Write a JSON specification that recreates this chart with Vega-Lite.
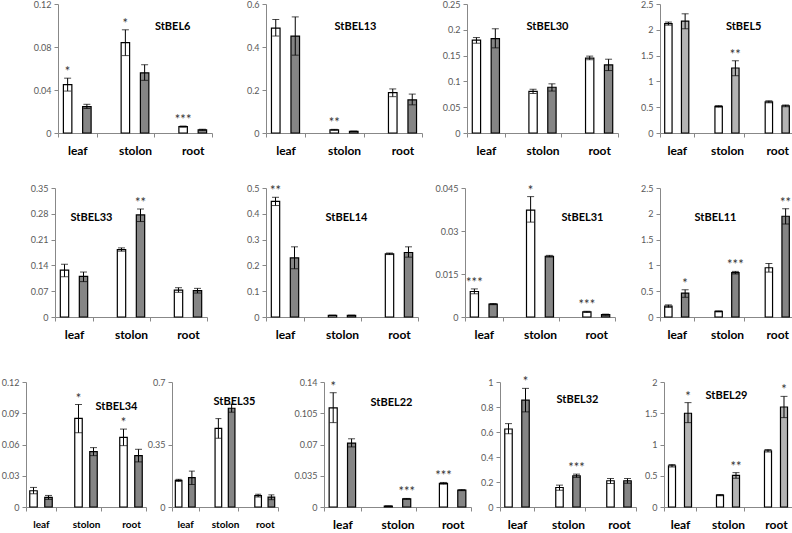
{
"$schema":"https://vega.github.io/schema/vega-lite/v6.json",
"padding":{"left":0,"top":0,"right":0,"bottom":0},
"background":"white",
"datasets":{"d":[
{"gene":"StBEL6","tissue":"leaf","geno":"A","v":0.045,"lo":0.039,"hi":0.051,"sig":"*"},
{"gene":"StBEL6","tissue":"leaf","geno":"B","v":0.0245,"lo":0.0228,"hi":0.0267,"sig":""},
{"gene":"StBEL6","tissue":"stolon","geno":"A","v":0.084,"lo":0.072,"hi":0.096,"sig":"*"},
{"gene":"StBEL6","tissue":"stolon","geno":"B","v":0.056,"lo":0.049,"hi":0.0635,"sig":""},
{"gene":"StBEL6","tissue":"root","geno":"A","v":0.006,"lo":0.0055,"hi":0.0065,"sig":"***"},
{"gene":"StBEL6","tissue":"root","geno":"B","v":0.003,"lo":0.0025,"hi":0.0035,"sig":""},
{"gene":"StBEL13","tissue":"leaf","geno":"A","v":0.488,"lo":0.451,"hi":0.528,"sig":""},
{"gene":"StBEL13","tissue":"leaf","geno":"B","v":0.451,"lo":0.362,"hi":0.54,"sig":""},
{"gene":"StBEL13","tissue":"stolon","geno":"A","v":0.015,"lo":0.013,"hi":0.017,"sig":"**"},
{"gene":"StBEL13","tissue":"stolon","geno":"B","v":0.008,"lo":0.007,"hi":0.009,"sig":""},
{"gene":"StBEL13","tissue":"root","geno":"A","v":0.188,"lo":0.169,"hi":0.205,"sig":""},
{"gene":"StBEL13","tissue":"root","geno":"B","v":0.154,"lo":0.131,"hi":0.181,"sig":""},
{"gene":"StBEL30","tissue":"leaf","geno":"A","v":0.18,"lo":0.174,"hi":0.185,"sig":""},
{"gene":"StBEL30","tissue":"leaf","geno":"B","v":0.183,"lo":0.165,"hi":0.202,"sig":""},
{"gene":"StBEL30","tissue":"stolon","geno":"A","v":0.0807,"lo":0.0767,"hi":0.0847,"sig":""},
{"gene":"StBEL30","tissue":"stolon","geno":"B","v":0.0887,"lo":0.0813,"hi":0.0953,"sig":""},
{"gene":"StBEL30","tissue":"root","geno":"A","v":0.145,"lo":0.142,"hi":0.149,"sig":""},
{"gene":"StBEL30","tissue":"root","geno":"B","v":0.132,"lo":0.121,"hi":0.143,"sig":""},
{"gene":"StBEL5","tissue":"leaf","geno":"A","v":2.118,"lo":2.09,"hi":2.15,"sig":""},
{"gene":"StBEL5","tissue":"leaf","geno":"B","v":2.17,"lo":2.02,"hi":2.31,"sig":""},
{"gene":"StBEL5","tissue":"stolon","geno":"A","v":0.515,"lo":0.5,"hi":0.53,"sig":""},
{"gene":"StBEL5","tissue":"stolon","geno":"B","v":1.26,"lo":1.11,"hi":1.4,"sig":"**"},
{"gene":"StBEL5","tissue":"root","geno":"A","v":0.604,"lo":0.585,"hi":0.625,"sig":""},
{"gene":"StBEL5","tissue":"root","geno":"B","v":0.528,"lo":0.51,"hi":0.545,"sig":""},
{"gene":"StBEL33","tissue":"leaf","geno":"A","v":0.127,"lo":0.109,"hi":0.143,"sig":""},
{"gene":"StBEL33","tissue":"leaf","geno":"B","v":0.11,"lo":0.096,"hi":0.122,"sig":""},
{"gene":"StBEL33","tissue":"stolon","geno":"A","v":0.183,"lo":0.1786,"hi":0.1875,"sig":""},
{"gene":"StBEL33","tissue":"stolon","geno":"B","v":0.277,"lo":0.259,"hi":0.293,"sig":"**"},
{"gene":"StBEL33","tissue":"root","geno":"A","v":0.073,"lo":0.067,"hi":0.0795,"sig":""},
{"gene":"StBEL33","tissue":"root","geno":"B","v":0.0714,"lo":0.065,"hi":0.0777,"sig":""},
{"gene":"StBEL14","tissue":"leaf","geno":"A","v":0.448,"lo":0.432,"hi":0.464,"sig":"**"},
{"gene":"StBEL14","tissue":"leaf","geno":"B","v":0.229,"lo":0.187,"hi":0.272,"sig":""},
{"gene":"StBEL14","tissue":"stolon","geno":"A","v":0.006,"lo":0.005,"hi":0.007,"sig":""},
{"gene":"StBEL14","tissue":"stolon","geno":"B","v":0.006,"lo":0.005,"hi":0.007,"sig":""},
{"gene":"StBEL14","tissue":"root","geno":"A","v":0.245,"lo":0.242,"hi":0.248,"sig":""},
{"gene":"StBEL14","tissue":"root","geno":"B","v":0.25,"lo":0.232,"hi":0.272,"sig":""},
{"gene":"StBEL31","tissue":"leaf","geno":"A","v":0.0089,"lo":0.0081,"hi":0.0098,"sig":"***"},
{"gene":"StBEL31","tissue":"leaf","geno":"B","v":0.0045,"lo":0.0043,"hi":0.0047,"sig":""},
{"gene":"StBEL31","tissue":"stolon","geno":"A","v":0.0373,"lo":0.0331,"hi":0.042,"sig":"*"},
{"gene":"StBEL31","tissue":"stolon","geno":"B","v":0.0212,"lo":0.0209,"hi":0.0215,"sig":""},
{"gene":"StBEL31","tissue":"root","geno":"A","v":0.0018,"lo":0.0016,"hi":0.002,"sig":"***"},
{"gene":"StBEL31","tissue":"root","geno":"B","v":0.0008,"lo":0.0006,"hi":0.001,"sig":""},
{"gene":"StBEL11","tissue":"leaf","geno":"A","v":0.21,"lo":0.185,"hi":0.235,"sig":""},
{"gene":"StBEL11","tissue":"leaf","geno":"B","v":0.464,"lo":0.382,"hi":0.528,"sig":"*"},
{"gene":"StBEL11","tissue":"stolon","geno":"A","v":0.108,"lo":0.098,"hi":0.118,"sig":""},
{"gene":"StBEL11","tissue":"stolon","geno":"B","v":0.859,"lo":0.834,"hi":0.884,"sig":"***"},
{"gene":"StBEL11","tissue":"root","geno":"A","v":0.954,"lo":0.87,"hi":1.037,"sig":""},
{"gene":"StBEL11","tissue":"root","geno":"B","v":1.953,"lo":1.8,"hi":2.1,"sig":"**"},
{"gene":"StBEL34","tissue":"leaf","geno":"A","v":0.0156,"lo":0.0127,"hi":0.0188,"sig":""},
{"gene":"StBEL34","tissue":"leaf","geno":"B","v":0.0092,"lo":0.0073,"hi":0.0111,"sig":""},
{"gene":"StBEL34","tissue":"stolon","geno":"A","v":0.085,"lo":0.0713,"hi":0.0984,"sig":"*"},
{"gene":"StBEL34","tissue":"stolon","geno":"B","v":0.0532,"lo":0.0493,"hi":0.057,"sig":""},
{"gene":"StBEL34","tissue":"root","geno":"A","v":0.0668,"lo":0.0589,"hi":0.0748,"sig":"*"},
{"gene":"StBEL34","tissue":"root","geno":"B","v":0.0493,"lo":0.0433,"hi":0.0554,"sig":""},
{"gene":"StBEL35","tissue":"leaf","geno":"A","v":0.149,"lo":0.143,"hi":0.155,"sig":""},
{"gene":"StBEL35","tissue":"leaf","geno":"B","v":0.164,"lo":0.126,"hi":0.201,"sig":""},
{"gene":"StBEL35","tissue":"stolon","geno":"A","v":0.44,"lo":0.385,"hi":0.495,"sig":""},
{"gene":"StBEL35","tissue":"stolon","geno":"B","v":0.553,"lo":0.531,"hi":0.576,"sig":""},
{"gene":"StBEL35","tissue":"root","geno":"A","v":0.064,"lo":0.056,"hi":0.0715,"sig":""},
{"gene":"StBEL35","tissue":"root","geno":"B","v":0.055,"lo":0.041,"hi":0.068,"sig":""},
{"gene":"StBEL22","tissue":"leaf","geno":"A","v":0.111,"lo":0.0945,"hi":0.128,"sig":"*"},
{"gene":"StBEL22","tissue":"leaf","geno":"B","v":0.0716,"lo":0.0673,"hi":0.0764,"sig":""},
{"gene":"StBEL22","tissue":"stolon","geno":"A","v":0.001,"lo":0.0008,"hi":0.0012,"sig":""},
{"gene":"StBEL22","tissue":"stolon","geno":"B","v":0.0091,"lo":0.0086,"hi":0.0096,"sig":"***"},
{"gene":"StBEL22","tissue":"root","geno":"A","v":0.0265,"lo":0.0255,"hi":0.0275,"sig":"***"},
{"gene":"StBEL22","tissue":"root","geno":"B","v":0.0189,"lo":0.0183,"hi":0.0195,"sig":""},
{"gene":"StBEL32","tissue":"leaf","geno":"A","v":0.624,"lo":0.586,"hi":0.667,"sig":""},
{"gene":"StBEL32","tissue":"leaf","geno":"B","v":0.855,"lo":0.761,"hi":0.949,"sig":"*"},
{"gene":"StBEL32","tissue":"stolon","geno":"A","v":0.156,"lo":0.134,"hi":0.175,"sig":""},
{"gene":"StBEL32","tissue":"stolon","geno":"B","v":0.25,"lo":0.237,"hi":0.263,"sig":"***"},
{"gene":"StBEL32","tissue":"root","geno":"A","v":0.21,"lo":0.188,"hi":0.228,"sig":""},
{"gene":"StBEL32","tissue":"root","geno":"B","v":0.21,"lo":0.19,"hi":0.228,"sig":""},
{"gene":"StBEL29","tissue":"leaf","geno":"A","v":0.66,"lo":0.64,"hi":0.68,"sig":""},
{"gene":"StBEL29","tissue":"leaf","geno":"B","v":1.5,"lo":1.35,"hi":1.67,"sig":"*"},
{"gene":"StBEL29","tissue":"stolon","geno":"A","v":0.19,"lo":0.18,"hi":0.2,"sig":""},
{"gene":"StBEL29","tissue":"stolon","geno":"B","v":0.505,"lo":0.46,"hi":0.55,"sig":"**"},
{"gene":"StBEL29","tissue":"root","geno":"A","v":0.9,"lo":0.88,"hi":0.92,"sig":""},
{"gene":"StBEL29","tissue":"root","geno":"B","v":1.6,"lo":1.43,"hi":1.77,"sig":"*"}
]},
"vconcat":[
{"spacing":28,"resolve":{"scale":{"x":"independent","y":"independent","xOffset":"independent"}},"vconcat":[
{"spacing":0,"resolve":{"scale":{"x":"independent","y":"independent","xOffset":"independent"}},"hconcat":[
{"width":1,"height":1,"data":{"values":[]},"mark":"point"},
{"width":154,"height":129,"data":{"name":"d"},"transform":[{"filter":"datum.gene=='StBEL6'"}],"title":{"text":"StBEL6","anchor":"end","dx":-22,"dy":36},
"encoding":{"x":{"field":"tissue","type":"nominal","title":null,"sort":["leaf","stolon","root"],"scale":{"paddingInner":0.3333,"paddingOuter":0}},"xOffset":{"field":"geno","type":"nominal","scale":{"paddingInner":0.56,"paddingOuter":0.28}}},
"layer":[
{"mark":{"type":"bar","stroke":"black","strokeWidth":1.2},"encoding":{"y":{"field":"v","type":"quantitative","title":null,"scale":{"domain":[0,0.12],"nice":false},"axis":{"values":[0,0.04,0.08,0.12],"tickCount":12,"labelExpr":"toString(datum.value)","minExtent":57,"maxExtent":57}},"fill":{"condition":{"test":"datum.geno=='A'","value":"white"},"value":"#858585"}}},
{"mark":{"type":"rule","color":"black"},"encoding":{"y":{"field":"lo","type":"quantitative","title":null},"y2":{"field":"hi"}}},
{"mark":{"type":"tick","color":"black","size":7,"thickness":1},"encoding":{"y":{"field":"lo","type":"quantitative","title":null}}},
{"mark":{"type":"tick","color":"black","size":7,"thickness":1},"encoding":{"y":{"field":"hi","type":"quantitative","title":null}}},
{"mark":{"type":"text","dy":-2,"baseline":"alphabetic","fontSize":13,"color":"#333"},"encoding":{"y":{"field":"hi","type":"quantitative","title":null},"text":{"field":"sig"}}}]},
{"width":156,"height":129,"data":{"name":"d"},"transform":[{"filter":"datum.gene=='StBEL13'"}],"title":{"text":"StBEL13","anchor":"end","dx":-46,"dy":36},
"encoding":{"x":{"field":"tissue","type":"nominal","title":null,"sort":["leaf","stolon","root"],"scale":{"paddingInner":0.3333,"paddingOuter":0}},"xOffset":{"field":"geno","type":"nominal","scale":{"paddingInner":0.56,"paddingOuter":0.28}}},
"layer":[
{"mark":{"type":"bar","stroke":"black","strokeWidth":1.2},"encoding":{"y":{"field":"v","type":"quantitative","title":null,"scale":{"domain":[0,0.6],"nice":false},"axis":{"values":[0,0.2,0.4,0.6],"tickCount":12,"labelExpr":"toString(datum.value)","minExtent":53,"maxExtent":53}},"fill":{"condition":{"test":"datum.geno=='A'","value":"white"},"value":"#858585"}}},
{"mark":{"type":"rule","color":"black"},"encoding":{"y":{"field":"lo","type":"quantitative","title":null},"y2":{"field":"hi"}}},
{"mark":{"type":"tick","color":"black","size":7,"thickness":1},"encoding":{"y":{"field":"lo","type":"quantitative","title":null}}},
{"mark":{"type":"tick","color":"black","size":7,"thickness":1},"encoding":{"y":{"field":"hi","type":"quantitative","title":null}}},
{"mark":{"type":"text","dy":-2,"baseline":"alphabetic","fontSize":13,"color":"#333"},"encoding":{"y":{"field":"hi","type":"quantitative","title":null},"text":{"field":"sig"}}}]},
{"width":151,"height":129,"data":{"name":"d"},"transform":[{"filter":"datum.gene=='StBEL30'"}],"title":{"text":"StBEL30","anchor":"end","dx":-50,"dy":36},
"encoding":{"x":{"field":"tissue","type":"nominal","title":null,"sort":["leaf","stolon","root"],"scale":{"paddingInner":0.3333,"paddingOuter":0}},"xOffset":{"field":"geno","type":"nominal","scale":{"paddingInner":0.56,"paddingOuter":0.28}}},
"layer":[
{"mark":{"type":"bar","stroke":"black","strokeWidth":1.2},"encoding":{"y":{"field":"v","type":"quantitative","title":null,"scale":{"domain":[0,0.25],"nice":false},"axis":{"values":[0,0.05,0.1,0.15,0.2,0.25],"tickCount":12,"labelExpr":"toString(datum.value)","minExtent":44,"maxExtent":44}},"fill":{"condition":{"test":"datum.geno=='A'","value":"white"},"value":"#858585"}}},
{"mark":{"type":"rule","color":"black"},"encoding":{"y":{"field":"lo","type":"quantitative","title":null},"y2":{"field":"hi"}}},
{"mark":{"type":"tick","color":"black","size":7,"thickness":1},"encoding":{"y":{"field":"lo","type":"quantitative","title":null}}},
{"mark":{"type":"tick","color":"black","size":7,"thickness":1},"encoding":{"y":{"field":"hi","type":"quantitative","title":null}}},
{"mark":{"type":"text","dy":-2,"baseline":"alphabetic","fontSize":13,"color":"#333"},"encoding":{"y":{"field":"hi","type":"quantitative","title":null},"text":{"field":"sig"}}}]},
{"width":134,"height":129,"data":{"name":"d"},"transform":[{"filter":"datum.gene=='StBEL5'"}],"title":{"text":"StBEL5","anchor":"end","dx":-33,"dy":36},
"encoding":{"x":{"field":"tissue","type":"nominal","title":null,"sort":["leaf","stolon","root"],"scale":{"paddingInner":0.3333,"paddingOuter":0}},"xOffset":{"field":"geno","type":"nominal","scale":{"paddingInner":0.56,"paddingOuter":0.28}}},
"layer":[
{"mark":{"type":"bar","stroke":"black","strokeWidth":1.2},"encoding":{"y":{"field":"v","type":"quantitative","title":null,"scale":{"domain":[0,2.5],"nice":false},"axis":{"values":[0,0.5,1,1.5,2,2.5],"tickCount":12,"labelExpr":"toString(datum.value)","minExtent":41,"maxExtent":41}},"fill":{"condition":{"test":"datum.geno=='A'","value":"white"},"value":"#b4b4b4"}}},
{"mark":{"type":"rule","color":"black"},"encoding":{"y":{"field":"lo","type":"quantitative","title":null},"y2":{"field":"hi"}}},
{"mark":{"type":"tick","color":"black","size":7,"thickness":1},"encoding":{"y":{"field":"lo","type":"quantitative","title":null}}},
{"mark":{"type":"tick","color":"black","size":7,"thickness":1},"encoding":{"y":{"field":"hi","type":"quantitative","title":null}}},
{"mark":{"type":"text","dy":-2,"baseline":"alphabetic","fontSize":13,"color":"#333"},"encoding":{"y":{"field":"hi","type":"quantitative","title":null},"text":{"field":"sig"}}}]}
]},
{"spacing":0,"resolve":{"scale":{"x":"independent","y":"independent","xOffset":"independent"}},"hconcat":[
{"width":1,"height":1,"data":{"values":[]},"mark":"point"},
{"width":152,"height":129,"data":{"name":"d"},"transform":[{"filter":"datum.gene=='StBEL33'"}],"title":{"text":"StBEL33","anchor":"end","dx":-95,"dy":43},
"encoding":{"x":{"field":"tissue","type":"nominal","title":null,"sort":["leaf","stolon","root"],"scale":{"paddingInner":0.3333,"paddingOuter":0}},"xOffset":{"field":"geno","type":"nominal","scale":{"paddingInner":0.56,"paddingOuter":0.28}}},
"layer":[
{"mark":{"type":"bar","stroke":"black","strokeWidth":1.2},"encoding":{"y":{"field":"v","type":"quantitative","title":null,"scale":{"domain":[0,0.35],"nice":false},"axis":{"values":[0,0.07,0.14,0.21,0.28,0.35],"tickCount":12,"labelExpr":"toString(datum.value)","minExtent":54,"maxExtent":54}},"fill":{"condition":{"test":"datum.geno=='A'","value":"white"},"value":"#858585"}}},
{"mark":{"type":"rule","color":"black"},"encoding":{"y":{"field":"lo","type":"quantitative","title":null},"y2":{"field":"hi"}}},
{"mark":{"type":"tick","color":"black","size":7,"thickness":1},"encoding":{"y":{"field":"lo","type":"quantitative","title":null}}},
{"mark":{"type":"tick","color":"black","size":7,"thickness":1},"encoding":{"y":{"field":"hi","type":"quantitative","title":null}}},
{"mark":{"type":"text","dy":-2,"baseline":"alphabetic","fontSize":13,"color":"#333"},"encoding":{"y":{"field":"hi","type":"quantitative","title":null},"text":{"field":"sig"}}}]},
{"width":152,"height":129,"data":{"name":"d"},"transform":[{"filter":"datum.gene=='StBEL14'"}],"title":{"text":"StBEL14","anchor":"end","dx":-51,"dy":43},
"encoding":{"x":{"field":"tissue","type":"nominal","title":null,"sort":["leaf","stolon","root"],"scale":{"paddingInner":0.3333,"paddingOuter":0}},"xOffset":{"field":"geno","type":"nominal","scale":{"paddingInner":0.56,"paddingOuter":0.28}}},
"layer":[
{"mark":{"type":"bar","stroke":"black","strokeWidth":1.2},"encoding":{"y":{"field":"v","type":"quantitative","title":null,"scale":{"domain":[0,0.5],"nice":false},"axis":{"values":[0,0.1,0.2,0.3,0.4,0.5],"tickCount":12,"labelExpr":"toString(datum.value)","minExtent":58,"maxExtent":58}},"fill":{"condition":{"test":"datum.geno=='A'","value":"white"},"value":"#858585"}}},
{"mark":{"type":"rule","color":"black"},"encoding":{"y":{"field":"lo","type":"quantitative","title":null},"y2":{"field":"hi"}}},
{"mark":{"type":"tick","color":"black","size":7,"thickness":1},"encoding":{"y":{"field":"lo","type":"quantitative","title":null}}},
{"mark":{"type":"tick","color":"black","size":7,"thickness":1},"encoding":{"y":{"field":"hi","type":"quantitative","title":null}}},
{"mark":{"type":"text","dy":-2,"baseline":"alphabetic","fontSize":13,"color":"#333"},"encoding":{"y":{"field":"hi","type":"quantitative","title":null},"text":{"field":"sig"}}}]},
{"width":150,"height":129,"data":{"name":"d"},"transform":[{"filter":"datum.gene=='StBEL31'"}],"title":{"text":"StBEL31","anchor":"end","dx":-12,"dy":43},
"encoding":{"x":{"field":"tissue","type":"nominal","title":null,"sort":["leaf","stolon","root"],"scale":{"paddingInner":0.3333,"paddingOuter":0}},"xOffset":{"field":"geno","type":"nominal","scale":{"paddingInner":0.56,"paddingOuter":0.28}}},
"layer":[
{"mark":{"type":"bar","stroke":"black","strokeWidth":1.2},"encoding":{"y":{"field":"v","type":"quantitative","title":null,"scale":{"domain":[0,0.045],"nice":false},"axis":{"values":[0,0.015,0.03,0.045],"tickCount":12,"labelExpr":"toString(datum.value)","minExtent":46,"maxExtent":46}},"fill":{"condition":{"test":"datum.geno=='A'","value":"white"},"value":"#858585"}}},
{"mark":{"type":"rule","color":"black"},"encoding":{"y":{"field":"lo","type":"quantitative","title":null},"y2":{"field":"hi"}}},
{"mark":{"type":"tick","color":"black","size":7,"thickness":1},"encoding":{"y":{"field":"lo","type":"quantitative","title":null}}},
{"mark":{"type":"tick","color":"black","size":7,"thickness":1},"encoding":{"y":{"field":"hi","type":"quantitative","title":null}}},
{"mark":{"type":"text","dy":-2,"baseline":"alphabetic","fontSize":13,"color":"#333"},"encoding":{"y":{"field":"hi","type":"quantitative","title":null},"text":{"field":"sig"}}}]},
{"width":134,"height":129,"data":{"name":"d"},"transform":[{"filter":"datum.gene=='StBEL11'"}],"title":{"text":"StBEL11","anchor":"end","dx":-58,"dy":43},
"encoding":{"x":{"field":"tissue","type":"nominal","title":null,"sort":["leaf","stolon","root"],"scale":{"paddingInner":0.3333,"paddingOuter":0}},"xOffset":{"field":"geno","type":"nominal","scale":{"paddingInner":0.56,"paddingOuter":0.28}}},
"layer":[
{"mark":{"type":"bar","stroke":"black","strokeWidth":1.2},"encoding":{"y":{"field":"v","type":"quantitative","title":null,"scale":{"domain":[0,2.5],"nice":false},"axis":{"values":[0,0.5,1,1.5,2,2.5],"tickCount":12,"labelExpr":"toString(datum.value)","minExtent":44,"maxExtent":44}},"fill":{"condition":{"test":"datum.geno=='A'","value":"white"},"value":"#858585"}}},
{"mark":{"type":"rule","color":"black"},"encoding":{"y":{"field":"lo","type":"quantitative","title":null},"y2":{"field":"hi"}}},
{"mark":{"type":"tick","color":"black","size":7,"thickness":1},"encoding":{"y":{"field":"lo","type":"quantitative","title":null}}},
{"mark":{"type":"tick","color":"black","size":7,"thickness":1},"encoding":{"y":{"field":"hi","type":"quantitative","title":null}}},
{"mark":{"type":"text","dy":-2,"baseline":"alphabetic","fontSize":13,"color":"#333"},"encoding":{"y":{"field":"hi","type":"quantitative","title":null},"text":{"field":"sig"}}}]}
]}
]},
{"spacing":0,"resolve":{"scale":{"x":"independent","y":"independent","xOffset":"independent"}},"hconcat":[
{"width":1,"height":1,"data":{"values":[]},"mark":"point"},
{"width":120,"height":125,"data":{"name":"d"},"transform":[{"filter":"datum.gene=='StBEL34'"}],"title":{"text":"StBEL34","anchor":"end","dx":-9,"dy":38},
"encoding":{"x":{"field":"tissue","type":"nominal","title":null,"sort":["leaf","stolon","root"],"scale":{"paddingInner":0.3333,"paddingOuter":0},"axis":{"labelFontSize":10}},"xOffset":{"field":"geno","type":"nominal","scale":{"paddingInner":0.5,"paddingOuter":0.25}}},
"layer":[
{"mark":{"type":"bar","stroke":"black","strokeWidth":1.2},"encoding":{"y":{"field":"v","type":"quantitative","title":null,"scale":{"domain":[0,0.12],"nice":false},"axis":{"values":[0,0.03,0.06,0.09,0.12],"tickCount":12,"labelExpr":"toString(datum.value)","minExtent":22,"maxExtent":22}},"fill":{"condition":{"test":"datum.geno=='A'","value":"white"},"value":"#858585"}}},
{"mark":{"type":"rule","color":"black"},"encoding":{"y":{"field":"lo","type":"quantitative","title":null},"y2":{"field":"hi"}}},
{"mark":{"type":"tick","color":"black","size":7,"thickness":1},"encoding":{"y":{"field":"lo","type":"quantitative","title":null}}},
{"mark":{"type":"tick","color":"black","size":7,"thickness":1},"encoding":{"y":{"field":"hi","type":"quantitative","title":null}}},
{"mark":{"type":"text","dy":-2,"baseline":"alphabetic","fontSize":13,"color":"#333"},"encoding":{"y":{"field":"hi","type":"quantitative","title":null},"text":{"field":"sig"}}}]},
{"width":106,"height":125,"data":{"name":"d"},"transform":[{"filter":"datum.gene=='StBEL35'"}],"title":{"text":"StBEL35","anchor":"end","dx":-23,"dy":33},
"encoding":{"x":{"field":"tissue","type":"nominal","title":null,"sort":["leaf","stolon","root"],"scale":{"paddingInner":0.3333,"paddingOuter":0},"axis":{"labelFontSize":10}},"xOffset":{"field":"geno","type":"nominal","scale":{"paddingInner":0.5,"paddingOuter":0.25}}},
"layer":[
{"mark":{"type":"bar","stroke":"black","strokeWidth":1.2},"encoding":{"y":{"field":"v","type":"quantitative","title":null,"scale":{"domain":[0,0.7],"nice":false},"axis":{"values":[0,0.35,0.7],"tickCount":12,"labelExpr":"toString(datum.value)","minExtent":24,"maxExtent":24}},"fill":{"condition":{"test":"datum.geno=='A'","value":"white"},"value":"#858585"}}},
{"mark":{"type":"rule","color":"black"},"encoding":{"y":{"field":"lo","type":"quantitative","title":null},"y2":{"field":"hi"}}},
{"mark":{"type":"tick","color":"black","size":6,"thickness":1},"encoding":{"y":{"field":"lo","type":"quantitative","title":null}}},
{"mark":{"type":"tick","color":"black","size":6,"thickness":1},"encoding":{"y":{"field":"hi","type":"quantitative","title":null}}},
{"mark":{"type":"text","dy":-2,"baseline":"alphabetic","fontSize":13,"color":"#333"},"encoding":{"y":{"field":"hi","type":"quantitative","title":null},"text":{"field":"sig"}}}]},
{"width":147,"height":125,"data":{"name":"d"},"transform":[{"filter":"datum.gene=='StBEL22'"}],"title":{"text":"StBEL22","anchor":"end","dx":-59,"dy":34},
"encoding":{"x":{"field":"tissue","type":"nominal","title":null,"sort":["leaf","stolon","root"],"scale":{"paddingInner":0.3333,"paddingOuter":0}},"xOffset":{"field":"geno","type":"nominal","scale":{"paddingInner":0.56,"paddingOuter":0.28}}},
"layer":[
{"mark":{"type":"bar","stroke":"black","strokeWidth":1.2},"encoding":{"y":{"field":"v","type":"quantitative","title":null,"scale":{"domain":[0,0.14],"nice":false},"axis":{"values":[0,0.035,0.07,0.105,0.14],"tickCount":12,"labelExpr":"toString(datum.value)","minExtent":45,"maxExtent":45}},"fill":{"condition":{"test":"datum.geno=='A'","value":"white"},"value":"#858585"}}},
{"mark":{"type":"rule","color":"black"},"encoding":{"y":{"field":"lo","type":"quantitative","title":null},"y2":{"field":"hi"}}},
{"mark":{"type":"tick","color":"black","size":7,"thickness":1},"encoding":{"y":{"field":"lo","type":"quantitative","title":null}}},
{"mark":{"type":"tick","color":"black","size":7,"thickness":1},"encoding":{"y":{"field":"hi","type":"quantitative","title":null}}},
{"mark":{"type":"text","dy":-2,"baseline":"alphabetic","fontSize":13,"color":"#333"},"encoding":{"y":{"field":"hi","type":"quantitative","title":null},"text":{"field":"sig"}}}]},
{"width":136,"height":125,"data":{"name":"d"},"transform":[{"filter":"datum.gene=='StBEL32'"}],"title":{"text":"StBEL32","anchor":"end","dx":-38,"dy":33},
"encoding":{"x":{"field":"tissue","type":"nominal","title":null,"sort":["leaf","stolon","root"],"scale":{"paddingInner":0.3333,"paddingOuter":0}},"xOffset":{"field":"geno","type":"nominal","scale":{"paddingInner":0.56,"paddingOuter":0.28}}},
"layer":[
{"mark":{"type":"bar","stroke":"black","strokeWidth":1.2},"encoding":{"y":{"field":"v","type":"quantitative","title":null,"scale":{"domain":[0,1],"nice":false},"axis":{"values":[0,0.2,0.4,0.6,0.8,1],"tickCount":12,"labelExpr":"toString(datum.value)","minExtent":28,"maxExtent":28}},"fill":{"condition":{"test":"datum.geno=='A'","value":"white"},"value":"#858585"}}},
{"mark":{"type":"rule","color":"black"},"encoding":{"y":{"field":"lo","type":"quantitative","title":null},"y2":{"field":"hi"}}},
{"mark":{"type":"tick","color":"black","size":7,"thickness":1},"encoding":{"y":{"field":"lo","type":"quantitative","title":null}}},
{"mark":{"type":"tick","color":"black","size":7,"thickness":1},"encoding":{"y":{"field":"hi","type":"quantitative","title":null}}},
{"mark":{"type":"text","dy":-2,"baseline":"alphabetic","fontSize":13,"color":"#333"},"encoding":{"y":{"field":"hi","type":"quantitative","title":null},"text":{"field":"sig"}}}]},
{"width":128,"height":125,"data":{"name":"d"},"transform":[{"filter":"datum.gene=='StBEL29'"}],"title":{"text":"StBEL29","anchor":"end","dx":-45,"dy":27},
"encoding":{"x":{"field":"tissue","type":"nominal","title":null,"sort":["leaf","stolon","root"],"scale":{"paddingInner":0.3333,"paddingOuter":0}},"xOffset":{"field":"geno","type":"nominal","scale":{"paddingInner":0.56,"paddingOuter":0.28}}},
"layer":[
{"mark":{"type":"bar","stroke":"black","strokeWidth":1.2},"encoding":{"y":{"field":"v","type":"quantitative","title":null,"scale":{"domain":[0,2],"nice":false},"axis":{"values":[0,0.5,1,1.5,2],"tickCount":12,"labelExpr":"toString(datum.value)","minExtent":27,"maxExtent":27}},"fill":{"condition":{"test":"datum.geno=='A'","value":"white"},"value":"#b4b4b4"}}},
{"mark":{"type":"rule","color":"black"},"encoding":{"y":{"field":"lo","type":"quantitative","title":null},"y2":{"field":"hi"}}},
{"mark":{"type":"tick","color":"black","size":7,"thickness":1},"encoding":{"y":{"field":"lo","type":"quantitative","title":null}}},
{"mark":{"type":"tick","color":"black","size":7,"thickness":1},"encoding":{"y":{"field":"hi","type":"quantitative","title":null}}},
{"mark":{"type":"text","dy":-2,"baseline":"alphabetic","fontSize":13,"color":"#333"},"encoding":{"y":{"field":"hi","type":"quantitative","title":null},"text":{"field":"sig"}}}]}
]}
],
"spacing":36,
"resolve":{"scale":{"x":"independent","y":"independent","xOffset":"independent"}},
"config":{
"view":{"stroke":null},
"font":"Lato",
"axis":{"grid":false},
"axisX":{"labelAngle":0,"labelFontSize":12,"labelFontWeight":"bold","labelColor":"black","labelPadding":8,"tickSize":4,"tickColor":"#888","domainColor":"#888","tickBand":"extent"},
"axisY":{"labelFontSize":9,"labelColor":"#595959","labelPadding":3,"tickSize":4,"tickColor":"#888","domainColor":"#888","labelOverlap":false},
"title":{"fontSize":11,"fontWeight":"bold","color":"black"}
}
}
